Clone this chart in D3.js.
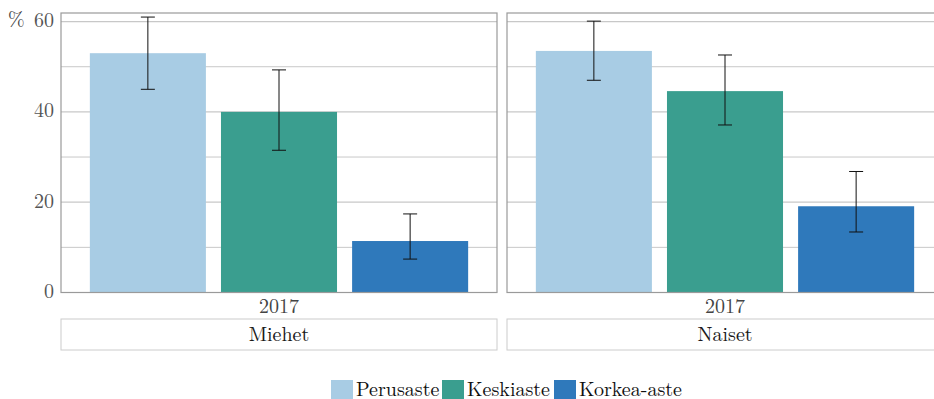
<!DOCTYPE html>
<html>
<head>
<meta charset="utf-8">
<script src="https://cdn.jsdelivr.net/npm/d3@7"></script>
<style>
  body { margin: 0; background: #fff; }
  svg { display: block; }
</style>
</head>
<body>
<svg id="chart" width="934" height="399"></svg>
<script>
// Education level shares by gender, 2017 (%), with confidence intervals
const panels = ["Miehet", "Naiset"];
const levels = ["Perusaste", "Keskiaste", "Korkea-aste"];
const year = "2017";
const values = [
  [53.0, 40.0, 11.4],
  [53.5, 44.6, 19.1]
];
const lower = [
  [45.0, 31.5, 7.4],
  [47.0, 37.1, 13.4]
];
const upper = [
  [61.0, 49.3, 17.4],
  [60.1, 52.6, 26.8]
];
const yTicks = [0, 20, 40, 60];
const yMinor = [10, 30, 50];
const colors = ["#a8cce4", "#3a9e8f", "#2f79bb"];

const FONT = '"Latin Modern Roman", "Liberation Serif", serif';
const FS = 20;
const svg = d3.select("#chart");

const panelX = [61, 507];
const panelW = [436, 436];
const plotTop = 13, plotBottom = 292.5;

const y = d3.scaleLinear().domain([0, 61.9]).range([plotBottom, plotTop]);

panels.forEach((name, p) => {
  const g = svg.append("g").attr("transform", `translate(${panelX[p]},0)`);
  const w = panelW[p];

  // gridlines
  g.selectAll(".minor").data(yMinor).enter().append("line")
    .attr("x1", 0).attr("x2", w)
    .attr("y1", d => y(d)).attr("y2", d => y(d))
    .attr("stroke", "#c8c8c8").attr("stroke-width", 1);
  g.selectAll(".major").data(yTicks).enter().append("line")
    .attr("x1", 0).attr("x2", w)
    .attr("y1", d => y(d)).attr("y2", d => y(d))
    .attr("stroke", "#c8c8c8").attr("stroke-width", 1.2);

  // bars
  const x = d3.scaleBand().domain(levels).range([0, w]).paddingInner(0.115).paddingOuter(0.22);
  g.selectAll(".bar").data(levels).enter().append("rect")
    .attr("x", d => x(d)).attr("width", x.bandwidth())
    .attr("y", (d, i) => y(values[p][i]))
    .attr("height", (d, i) => y(0) - y(values[p][i]))
    .attr("fill", (d, i) => colors[i]);

  // error bars
  const eb = g.selectAll(".err").data(levels).enter().append("g")
    .attr("transform", d => `translate(${x(d) + x.bandwidth() / 2},0)`);
  eb.append("line")
    .attr("y1", (d, i) => y(lower[p][i])).attr("y2", (d, i) => y(upper[p][i]))
    .attr("stroke", "#111").attr("stroke-width", 1);
  eb.append("line").attr("x1", -7).attr("x2", 7)
    .attr("y1", (d, i) => y(upper[p][i])).attr("y2", (d, i) => y(upper[p][i]))
    .attr("stroke", "#111").attr("stroke-width", 1);
  eb.append("line").attr("x1", -7).attr("x2", 7)
    .attr("y1", (d, i) => y(lower[p][i])).attr("y2", (d, i) => y(lower[p][i]))
    .attr("stroke", "#111").attr("stroke-width", 1);

  // panel frame
  g.append("rect").attr("x", 0).attr("y", plotTop).attr("width", w).attr("height", plotBottom - plotTop)
    .attr("fill", "none").attr("stroke", "#9a9a9a").attr("stroke-width", 1.2);

  // x label
  g.append("text").attr("x", w / 2).attr("y", 313).attr("text-anchor", "middle")
    .style("font-family", FONT).style("font-size", FS + "px").attr("fill", "#444").text(year);

  // strip label
  g.append("rect").attr("x", 0).attr("y", 319).attr("width", w).attr("height", 31)
    .attr("fill", "#fff").attr("stroke", "#cccccc").attr("stroke-width", 1);
  g.append("text").attr("x", w / 2).attr("y", 341).attr("text-anchor", "middle")
    .style("font-family", FONT).style("font-size", FS + "px").attr("fill", "#1a1a1a").text(name);
});

// y axis labels
const yAxis = d3.axisLeft(y).tickValues(yTicks).tickSize(0).tickPadding(7);
const ya = svg.append("g").attr("transform", `translate(${panelX[0]},0)`).call(yAxis);
ya.select(".domain").remove();
ya.selectAll("text").attr("fill", "#555").attr("dy", "0.24em")
  .style("font-family", FONT).style("font-size", FS + "px");

svg.append("text").attr("x", 8).attr("y", 26)
  .style("font-family", FONT).style("font-size", FS + "px").attr("fill", "#444").text("%");

// legend
const legendX = [331, 442, 554];
const lg = svg.selectAll(".leg").data(levels).enter().append("g")
  .attr("transform", (d, i) => `translate(${legendX[i]},380)`);
lg.append("rect").attr("width", 22).attr("height", 19).attr("fill", (d, i) => colors[i]);
lg.append("text").attr("x", 25).attr("y", 16)
  .style("font-family", FONT).style("font-size", FS + "px").attr("fill", "#111").text(d => d);
</script>
</body>
</html>
